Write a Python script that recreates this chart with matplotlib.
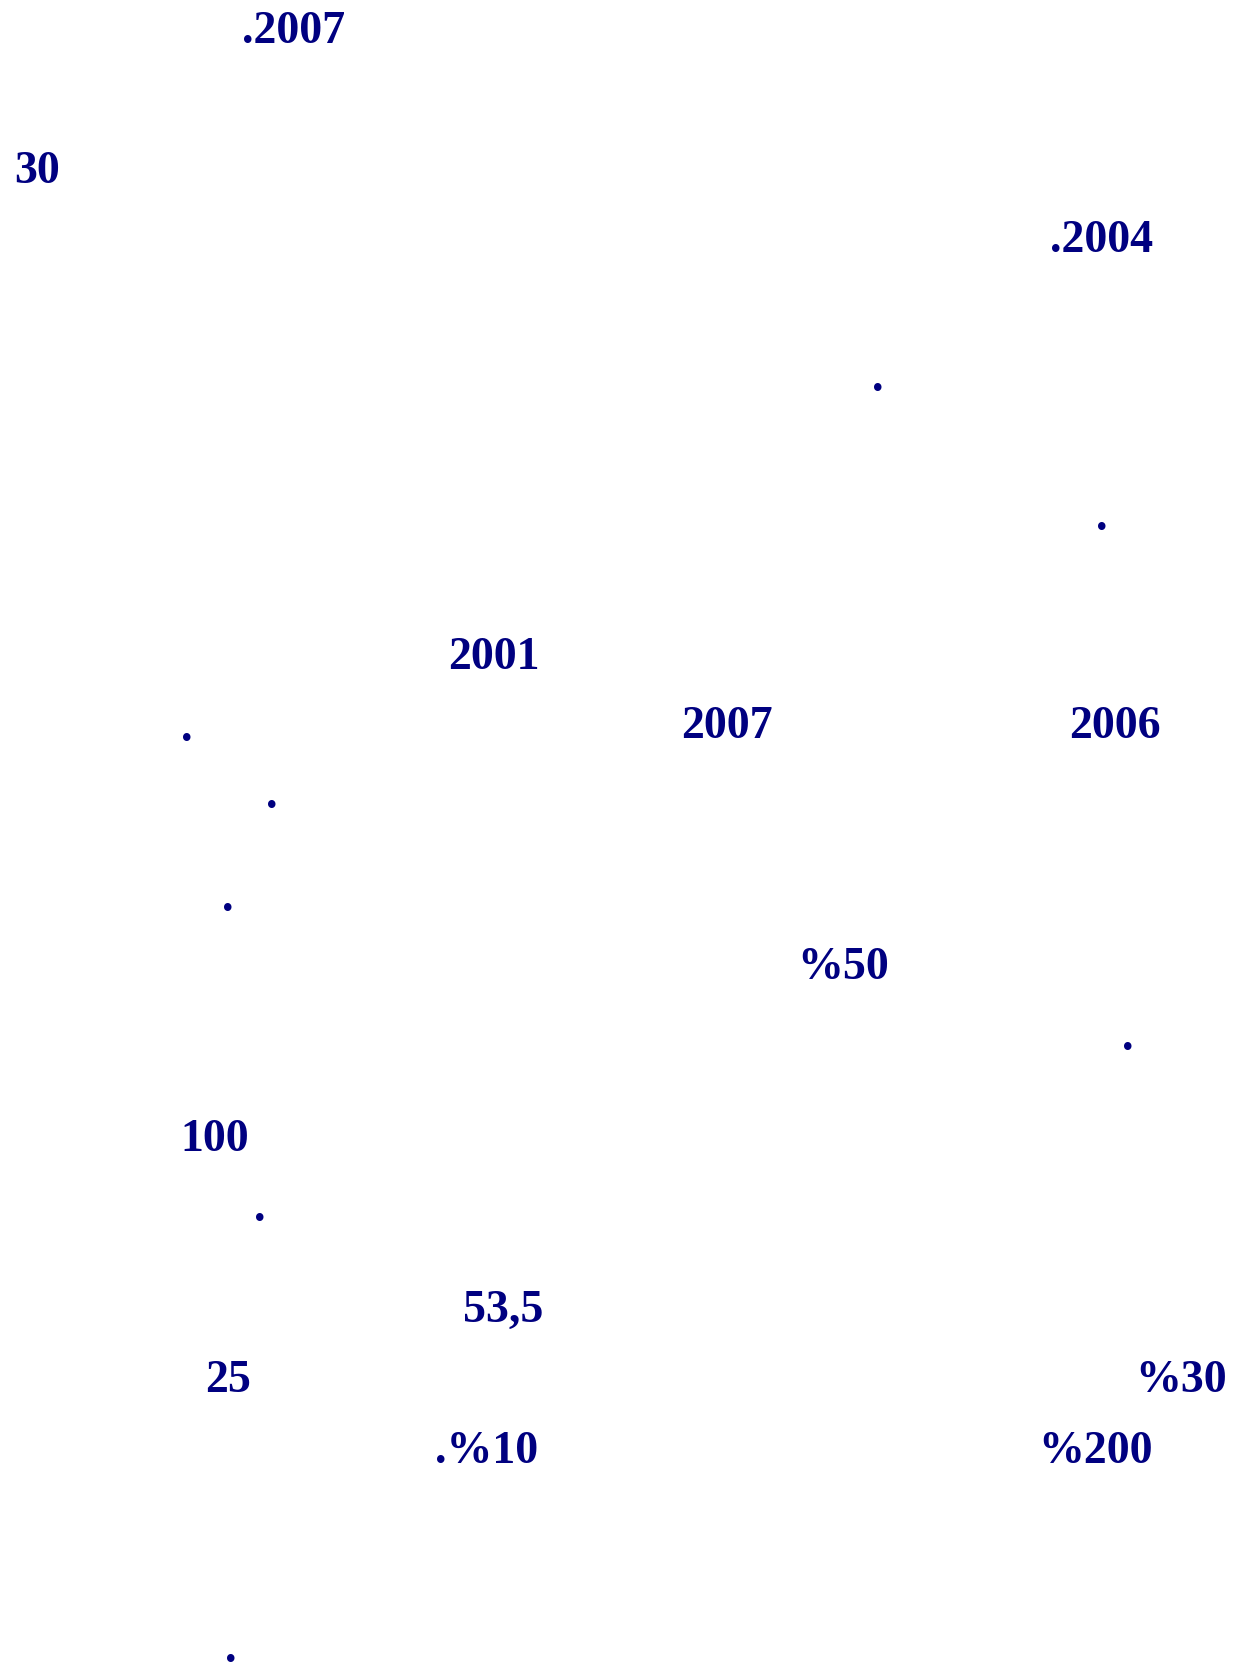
import matplotlib
matplotlib.use("Agg")
import matplotlib.pyplot as plt

# numbers left on the page (the rest of the text did not render)
labels = [".2007", "30", ".2004", "2001", "2007", "2006", "%50",
          "100", "53,5", "25", "%30", ".%10", "%200"]
label_x = [242, 14, 1050, 448, 681, 1069, 797, 180, 463, 205, 1135, 435, 1038]
label_y = [43, 183, 252, 669, 738, 738, 979, 1151, 1322, 1392, 1392, 1463, 1463]

# stray full stops
dot_x = [878, 1102, 187, 272, 228, 1128, 260, 231]
dot_y = [391, 530, 741, 808, 911, 1050, 1221, 1662]

navy = "#000080"

fig = plt.figure(figsize=(12.35, 16.74), dpi=100)
ax = fig.add_axes([0, 0, 1, 1])
ax.set_xlim(0, 1235)
ax.set_ylim(1674, 0)
ax.axis("off")

for s, x, y in zip(labels, label_x, label_y):
    ax.text(x, y, s, ha="left", va="baseline", color=navy,
            fontsize=33, fontweight="bold", family="Liberation Serif")

for x, y in zip(dot_x, dot_y):
    ax.text(x, y, ".", ha="center", va="baseline", color=navy,
            fontsize=33, fontweight="bold", family="Liberation Serif")

fig.savefig("out.png", dpi=100, facecolor="white")
